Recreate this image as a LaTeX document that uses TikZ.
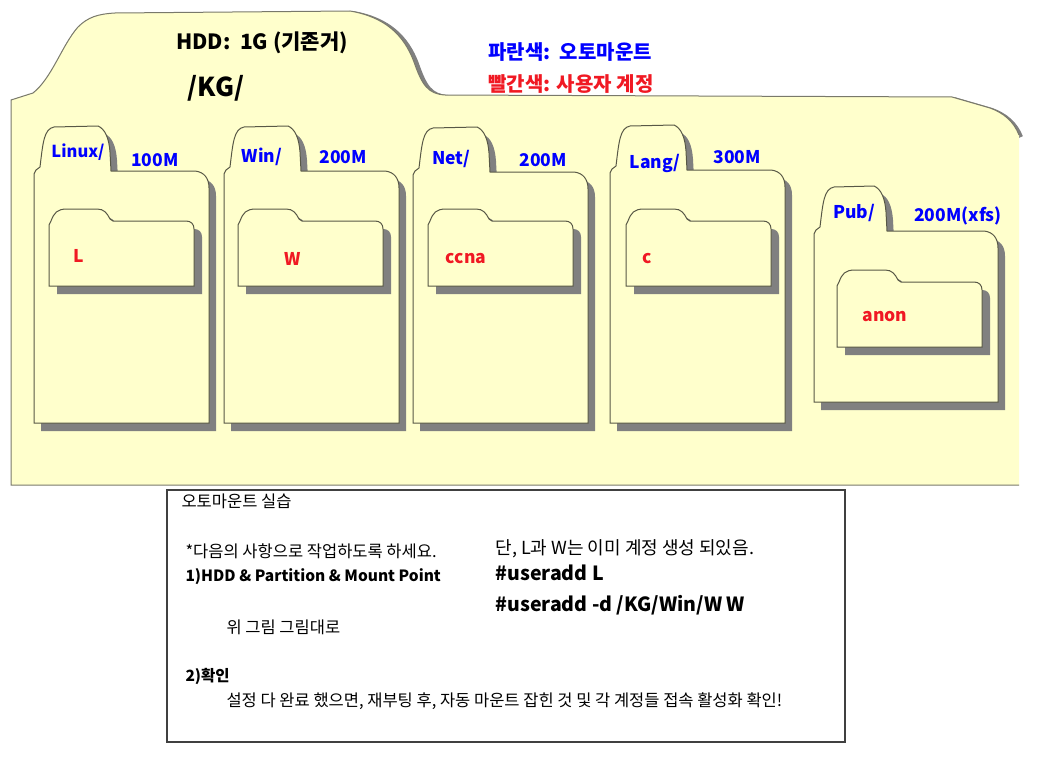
\documentclass[tikz,border=0pt]{standalone}
\usepackage{fontspec}
\setmainfont{Noto Sans CJK KR}
\usetikzlibrary{positioning}
\definecolor{FolderFill}{RGB}{255,255,204}
\definecolor{FolderLine}{RGB}{88,88,70}
\definecolor{ShadowGray}{RGB}{128,128,128}
\definecolor{MountBlue}{RGB}{0,0,255}
\definecolor{UserRed}{RGB}{240,25,35}

% folder outlines, origin = top left of the tab
\newcommand{\dirpath}[3]{(0,48) -- (2,44) -- (6,41) .. controls (9,16) and (10,3) .. (20,1) -- (#3-13,0) .. controls (#3-6,3) and (#3-2,12) .. (#3-1,26) -- (#3,45) -- (#1-14,45) .. controls (#1-5,46) and (#1,52) .. (#1,62) -- (#1,#2) -- (0,#2) -- cycle}
\newcommand{\subpath}[2]{(0,#2) -- (0,16) -- (2,12) .. controls (5,4) and (8,0) .. (18,0) -- (48,0) .. controls (55,0) and (58,4) .. (61,10) -- (64,12) -- (#1-8,12) .. controls (#1-3,12) and (#1,15) .. (#1,20) -- (#1,#2) -- cycle}

\begin{document}
\begin{tikzpicture}[x=1pt,y=-1pt,
dirshadow/.style={fill=ShadowGray,draw=none},
dirline/.style={fill=FolderFill,draw=FolderLine,line width=1pt},
head/.style={font=\fontsize{21}{24}\selectfont\bfseries},
mnt/.style={text=MountBlue,font=\fontsize{17.5}{20}\selectfont\bfseries},
usr/.style={text=UserRed,font=\fontsize{17.5}{20}\selectfont\bfseries},
note/.style={anchor=west,font=\fontsize{16.5}{19}\selectfont},
cmd/.style={anchor=west,font=\fontsize{19.5}{22}\selectfont\bfseries}
]
\useasboundingbox (0,0) rectangle (1061,760);

% big HDD folder
\draw[ShadowGray,line width=4pt,shift={(3,2)}] (350,11) .. controls (385,17) and (404,35) .. (414,62) .. controls (422,85) and (428,94) .. (445,95);
\draw[ShadowGray,line width=4pt,shift={(2,2)}] (952,97) -- (990,108) .. controls (1004,113) and (1014,122) .. (1019,135);
\fill[FolderFill] (11,100) -- (33,93) .. controls (52,78) and (62,45) .. (78,27) .. controls (88,17) and (98,14) .. (115,13) -- (350,11) .. controls (385,17) and (404,35) .. (414,62) .. controls (422,85) and (428,94) .. (445,95) -- (952,97) -- (990,108) .. controls (1004,113) and (1014,122) .. (1019,135) -- (1019,485) -- (11,485) -- cycle;
\draw[FolderLine!80,line width=1pt] (1019,135) .. controls (1014,122) and (1004,113) .. (990,108) -- (952,97) -- (445,95) .. controls (428,94) and (422,85) .. (414,62) .. controls (404,35) and (385,17) .. (350,11) -- (115,13) .. controls (98,14) and (88,17) .. (78,27) .. controls (62,45) and (52,78) .. (33,93) -- (11,100) -- (11,485) -- (1019,485);

\node[head] (hdd) at (262,43) {HDD:\ \ 1G (기존거)};
\node[font=\fontsize{26}{30}\selectfont\bfseries] (kg) at (216,88) {/KG/};
\node[anchor=west,text=MountBlue,font=\fontsize{20}{23}\selectfont\bfseries] (legblue) at (485,52) {파란색:\ \ 오토마운트};
\node[anchor=west,text=UserRed,font=\fontsize{20}{23}\selectfont\bfseries] (legred) at (485,84) {빨간색: 사용자 계정};

% partitions
\begin{scope}[shift={(34,126)}]
\path[dirshadow,shift={(7,8)}] \dirpath{175}{297}{77};
\path[dirline] \dirpath{175}{297}{77};
\end{scope}
\begin{scope}[shift={(224,126)}]
\path[dirshadow,shift={(7,8)}] \dirpath{175}{297}{77};
\path[dirline] \dirpath{175}{297}{77};
\end{scope}
\begin{scope}[shift={(413,127)}]
\path[dirshadow,shift={(7,8)}] \dirpath{175}{296}{77};
\path[dirline] \dirpath{175}{296}{77};
\end{scope}
\begin{scope}[shift={(610,125)}]
\path[dirshadow,shift={(7,8)}] \dirpath{175}{298}{77};
\path[dirline] \dirpath{175}{298}{77};
\end{scope}
\begin{scope}[shift={(814,186)}]
\path[dirshadow,shift={(7,8)}] \dirpath{184}{216}{73};
\path[dirline] \dirpath{184}{216}{73};
\end{scope}

% home dirs
\foreach \hx/\hy in {49/209,238/209,428/209,626/209,837/270}{
\begin{scope}[shift={(\hx,\hy)}]
\path[dirshadow,shift={(8,8)}] \subpath{145}{77};
\path[dirline] \subpath{145}{77};
\end{scope}
}

\node[mnt,font=\fontsize{16.5}{19}\selectfont\bfseries] (linux) at (78,152) {Linux/};
\node[mnt] (linuxsz) at (155,160) {100M};
\node[mnt] (win) at (262,157) {Win/};
\node[mnt] (winsz) at (343,157) {200M};
\node[mnt] (net) at (451,159) {Net/};
\node[mnt] (netsz) at (543,160) {200M};
\node[mnt] (lang) at (655,163) {Lang/};
\node[mnt] (langsz) at (737,157) {300M};
\node[mnt] (pub) at (854,213) {Pub/};
\node[mnt] (pubsz) at (958,216) {200M(xfs)};

\node[usr] (homel) at (79,256) {L};
\node[usr] (homew) at (293,259) {W};
\node[usr] (homeccna) at (466,259) {ccna};
\node[usr] (homec) at (647,259) {c};
\node[usr] (homeanon) at (885,317) {anon};

% task box
\draw[black!75,line width=1.2pt] (167,490) rectangle (845,742);
\node[note] (title) at (178,501) {오토마운트 실습};
\node[note] (intro) at (182,551) {*다음의 사항으로 작업하도록 하세요.};
\node[note,font=\fontsize{15.5}{18}\selectfont\bfseries] (step1) at (182,577) {1)HDD \& Partition \& Mount Point};
\node[note] (step1a) at (223,627) {위 그림 그림대로};
\node[note,font=\fontsize{15.5}{18}\selectfont\bfseries] (step2) at (182,676) {2)확인};
\node[note] (step2a) at (223,701) {설정 다 완료 했으면, 재부팅 후, 자동 마운트 잡힌 것 및 각 계정들 접속 활성화 확인!};
\node[note,font=\fontsize{18}{21}\selectfont] (already) at (492,549) {단, L과 W는 이미 계정 생성 되있음.};
\node[cmd] (cmdl) at (492,573) {\#useradd L};
\node[cmd] (cmdw) at (492,605) {\#useradd -d /KG/Win/W W};
\end{tikzpicture}
\end{document}
